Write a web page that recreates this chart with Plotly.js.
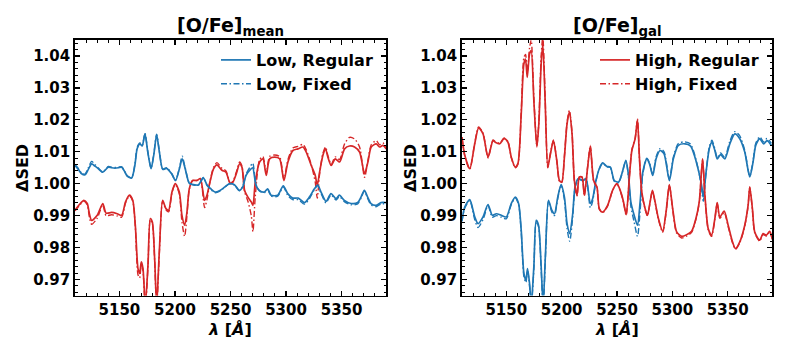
<!DOCTYPE html>
<html>
<head>
<meta charset="utf-8">
<script src="https://cdn.plot.ly/plotly-3.0.1.min.js"></script>
<style>
  html, body { margin: 0; padding: 0; background: #fff; }
  #chart { width: 789px; height: 351px; }
</style>
</head>
<body>
<div id="chart"></div>
<script>
// [O/Fe]_mean panel: low-alpha curves (blue) and the high-alpha curves (red)
const lamMeanLow = [5110, 5113, 5116, 5119, 5122, 5125, 5128, 5131, 5135, 5140, 5143, 5146, 5149, 5152, 5155, 5157, 5161, 5164, 5166, 5168.5, 5170.5, 5173, 5175.5, 5178.5, 5181, 5183.5, 5186, 5189, 5192.5, 5197, 5200.5, 5204, 5206.5, 5209, 5213, 5217, 5221, 5225.5, 5229, 5232, 5236, 5240.5, 5245, 5249, 5253.5, 5258, 5261, 5264, 5268, 5270, 5273, 5276, 5280.5, 5283.5, 5286.5, 5292.5, 5297.5, 5301.5, 5306, 5311, 5316.5, 5321, 5325.5, 5328.5, 5331.5, 5336, 5340.5, 5345, 5348, 5352.5, 5358.5, 5364.5, 5367.5, 5370.5, 5373.5, 5376.5, 5381, 5385.5, 5390];
const meanLowRegular = [1.0057, 1.0045, 1.0031, 1.0028, 1.0045, 1.0062, 1.0055, 1.0047, 1.0036, 1.0052, 1.0050, 1.0049, 1.0050, 1.0052, 1.0036, 1.0024, 1.0018, 1.0060, 1.0110, 1.0125, 1.0118, 1.0156, 1.0100, 1.0047, 1.0092, 1.0153, 1.0099, 1.0045, 1.0048, 1.0031, 1.0010, 1.0047, 1.0078, 1.0050, 1.0001, 0.9997, 0.9996, 1.0018, 0.9995, 0.9985, 0.9974, 0.9979, 0.9990, 1.0000, 0.9997, 0.9979, 0.9990, 1.0026, 1.0045, 1.0050, 0.9995, 0.9979, 0.9974, 0.9984, 0.9964, 0.9964, 0.9993, 0.9969, 0.9955, 0.9955, 0.9941, 0.9958, 0.9984, 0.9996, 0.9974, 0.9945, 0.9969, 0.9953, 0.9964, 0.9948, 0.9938, 0.9941, 0.9958, 0.9979, 0.9958, 0.9938, 0.9932, 0.9941, 0.9941];
const meanLowFixed = [1.0060, 1.0048, 1.0033, 1.0030, 1.0050, 1.0070, 1.0060, 1.0049, 1.0037, 1.0054, 1.0052, 1.0051, 1.0052, 1.0053, 1.0037, 1.0025, 1.0019, 1.0063, 1.0115, 1.0128, 1.0120, 1.0158, 1.0102, 1.0048, 1.0094, 1.0155, 1.0100, 1.0046, 1.0050, 1.0032, 1.0011, 1.0050, 1.0086, 1.0053, 1.0002, 0.9996, 0.9995, 1.0020, 0.9994, 0.9983, 0.9972, 0.9977, 0.9989, 1.0000, 0.9996, 0.9978, 0.9992, 1.0030, 1.0055, 1.0065, 0.9998, 0.9977, 0.9972, 0.9982, 0.9961, 0.9961, 0.9990, 0.9964, 0.9950, 0.9950, 0.9936, 0.9953, 0.9981, 0.9994, 0.9970, 0.9940, 0.9965, 0.9949, 0.9960, 0.9944, 0.9934, 0.9937, 0.9955, 0.9977, 0.9954, 0.9934, 0.9928, 0.9937, 0.9937];

const lamMeanHigh = [5110, 5114, 5118, 5121, 5123, 5125, 5130, 5135, 5138, 5143, 5148, 5152, 5155.5, 5159, 5162, 5164.3, 5166.7, 5168.2, 5169.7, 5171.2, 5173.3, 5175.7, 5177.8, 5179.6, 5181.7, 5183.5, 5185.9, 5188.9, 5191.9, 5194.3, 5197.3, 5200.3, 5203.9, 5206.3, 5208.7, 5210.8, 5212.9, 5215.9, 5219.8, 5222.8, 5226.7, 5228.8, 5231.8, 5234.8, 5237.8, 5242.3, 5245.9, 5249.8, 5252.2, 5255.2, 5258.2, 5260.3, 5262.7, 5265.7, 5268.7, 5270.2, 5272.3, 5276.2, 5279.2, 5282.2, 5285.2, 5289.7, 5294.2, 5298.1, 5301.7, 5306.2, 5310.7, 5315.2, 5318.2, 5322.7, 5326.3, 5328.1, 5330.2, 5333.2, 5335.6, 5337.7, 5340.7, 5344.3, 5348.2, 5352.7, 5357.2, 5361.7, 5366.2, 5370.7, 5373.7, 5376.7, 5381.2, 5384.2, 5387.2, 5390.2];
const meanHighRegular = [0.9917, 0.9935, 0.9948, 0.9938, 0.9905, 0.9885, 0.9901, 0.9938, 0.9908, 0.9910, 0.9906, 0.9901, 0.9943, 0.9964, 0.9948, 0.9870, 0.9734, 0.9719, 0.9755, 0.9734, 0.9620, 0.9745, 0.9891, 0.9880, 0.9766, 0.9620, 0.9786, 0.9948, 0.9922, 0.9917, 0.9974, 1.0000, 0.9974, 0.9901, 0.9870, 0.9911, 0.9984, 1.0010, 1.0010, 1.0016, 0.9948, 0.9964, 1.0010, 1.0047, 1.0059, 1.0042, 1.0036, 1.0000, 1.0005, 1.0031, 1.0062, 1.0052, 0.9979, 0.9958, 0.9943, 0.9932, 1.0005, 1.0068, 1.0078, 1.0026, 1.0078, 1.0083, 1.0078, 1.0010, 1.0068, 1.0104, 1.0109, 1.0115, 1.0099, 1.0057, 1.0026, 0.9995, 1.0036, 1.0089, 1.0109, 1.0083, 1.0057, 1.0078, 1.0068, 1.0109, 1.0118, 1.0115, 1.0099, 1.0031, 1.0068, 1.0115, 1.0125, 1.0115, 1.0120, 1.0109];
const meanHighFixed = [0.9915, 0.9932, 0.9946, 0.9934, 0.9895, 0.9873, 0.9892, 0.9934, 0.9900, 0.9903, 0.9899, 0.9895, 0.9940, 0.9962, 0.9945, 0.9865, 0.9715, 0.9705, 0.9750, 0.9728, 0.9610, 0.9740, 0.9888, 0.9876, 0.9760, 0.9610, 0.9780, 0.9945, 0.9918, 0.9912, 0.9972, 0.9998, 0.9968, 0.9880, 0.9835, 0.9900, 0.9982, 1.0010, 1.0011, 1.0016, 0.9925, 0.9950, 1.0012, 1.0052, 1.0066, 1.0048, 1.0040, 1.0002, 1.0008, 1.0036, 1.0068, 1.0055, 0.9975, 0.9945, 0.9900, 0.9850, 0.9960, 1.0075, 1.0085, 1.0033, 1.0085, 1.0090, 1.0085, 1.0014, 1.0075, 1.0112, 1.0117, 1.0123, 1.0106, 1.0060, 1.0005, 0.9955, 1.0030, 1.0095, 1.0115, 1.0088, 1.0060, 1.0084, 1.0076, 1.0125, 1.0145, 1.0140, 1.0115, 1.0020, 1.0072, 1.0122, 1.0135, 1.0122, 1.0128, 1.0115];

// [O/Fe]_gal panel: high-alpha curves (red) and the low-alpha curves (blue)
const lamGalHigh = [5110, 5112.5, 5117, 5121.5, 5125, 5129, 5133.5, 5138, 5140, 5144, 5148, 5151.5, 5154.5, 5158, 5160.5, 5163.5, 5165.9, 5167.4, 5168.9, 5171, 5172.5, 5174.9, 5177.6, 5179.4, 5181.5, 5183, 5185.1, 5187.5, 5189.9, 5192.6, 5195.6, 5198, 5200.1, 5202.5, 5204.9, 5207, 5209.4, 5211.5, 5213.9, 5216, 5218.4, 5220.5, 5223.5, 5225.9, 5228.9, 5231.9, 5234, 5237, 5241.5, 5246, 5249.9, 5252.9, 5255.9, 5258.3, 5261.3, 5263.4, 5266.4, 5268.5, 5270.3, 5272.4, 5275.4, 5277.5, 5279.9, 5282, 5284.4, 5287.4, 5291.3, 5294.3, 5297.3, 5300.3, 5303.9, 5308.4, 5312.9, 5317.4, 5321.3, 5324.3, 5327.3, 5329.4, 5332.4, 5335.4, 5338.4, 5340.5, 5342.9, 5346.8, 5350.4, 5354.3, 5357, 5360.9, 5365.4, 5368.4, 5369.9, 5372.3, 5374.4, 5378.9, 5381.9, 5384.9, 5387.9, 5390.3];
const galHighRegular = [1.0146, 1.0089, 1.0047, 1.0125, 1.0175, 1.0156, 1.0083, 1.0135, 1.0130, 1.0125, 1.0141, 1.0130, 1.0083, 1.0052, 1.0063, 1.0219, 1.0375, 1.0390, 1.0333, 1.0406, 1.0417, 1.0260, 1.0115, 1.0188, 1.0375, 1.0437, 1.0260, 1.0052, 1.0094, 1.0135, 1.0073, 1.0010, 1.0005, 1.0083, 1.0188, 1.0224, 1.0156, 1.0010, 0.9964, 1.0021, 1.0021, 0.9964, 1.0052, 1.0117, 1.0010, 0.9990, 0.9922, 0.9911, 0.9932, 0.9979, 1.0000, 0.9979, 0.9943, 0.9903, 1.0026, 1.0104, 1.0141, 1.0200, 1.0078, 0.9974, 0.9922, 0.9901, 0.9943, 0.9979, 0.9943, 0.9891, 0.9851, 0.9911, 0.9997, 0.9922, 0.9849, 0.9835, 0.9840, 0.9851, 0.9891, 0.9943, 1.0078, 0.9964, 0.9859, 0.9839, 0.9891, 0.9941, 0.9896, 0.9914, 0.9870, 0.9818, 0.9797, 0.9818, 0.9870, 0.9932, 0.9990, 0.9922, 0.9849, 0.9823, 0.9844, 0.9839, 0.9851, 0.9828];
const galHighFixed = [1.0144, 1.0087, 1.0045, 1.0127, 1.0178, 1.0158, 1.0081, 1.0137, 1.0132, 1.0127, 1.0143, 1.0132, 1.0082, 1.0050, 1.0062, 1.0225, 1.0395, 1.0405, 1.0345, 1.0425, 1.0450, 1.0270, 1.0118, 1.0195, 1.0400, 1.0460, 1.0270, 1.0050, 1.0096, 1.0137, 1.0072, 1.0008, 1.0004, 1.0086, 1.0193, 1.0230, 1.0160, 1.0008, 0.9962, 1.0020, 1.0020, 0.9962, 1.0054, 1.0120, 1.0008, 0.9988, 0.9920, 0.9909, 0.9930, 0.9978, 1.0000, 0.9978, 0.9941, 0.9901, 1.0027, 1.0106, 1.0143, 1.0203, 1.0078, 0.9972, 0.9920, 0.9899, 0.9942, 0.9978, 0.9941, 0.9888, 0.9848, 0.9909, 0.9996, 0.9919, 0.9845, 0.9830, 0.9836, 0.9848, 0.9889, 0.9942, 1.0075, 0.9962, 0.9856, 0.9835, 0.9888, 0.9939, 0.9892, 0.9910, 0.9866, 0.9815, 0.9795, 0.9815, 0.9867, 0.9930, 0.9988, 0.9919, 0.9846, 0.9820, 0.9841, 0.9836, 0.9848, 0.9825];

const lamGalLow = [5110, 5112.5, 5117, 5121.5, 5124.5, 5129, 5133.5, 5137.4, 5141, 5145.5, 5150, 5154.5, 5158.1, 5161.1, 5163.5, 5165.9, 5167.7, 5169.2, 5171, 5172.5, 5174.9, 5177, 5179.1, 5181.5, 5183.3, 5185.4, 5188.1, 5191.1, 5193.5, 5196.5, 5199.5, 5202.5, 5204.9, 5207.3, 5210, 5212.1, 5215.1, 5219, 5222, 5225.9, 5228, 5231, 5234, 5237, 5240.9, 5244, 5247.5, 5251.4, 5254.4, 5258, 5260.4, 5262.5, 5265.5, 5268.5, 5270.9, 5273.3, 5276.9, 5279.3, 5282.3, 5285.3, 5288.9, 5292.5, 5297.3, 5300.9, 5305.4, 5311.4, 5316.5, 5320.4, 5324.3, 5326.4, 5327.9, 5330.3, 5333.3, 5335.7, 5338.4, 5340.5, 5343.5, 5347.4, 5351.9, 5356.4, 5360.9, 5365.4, 5369.9, 5372.9, 5375.3, 5378.9, 5382.5, 5385.5, 5389.4];
const galLowRegular = [0.9885, 0.9927, 0.9950, 0.9896, 0.9875, 0.9896, 0.9935, 0.9901, 0.9906, 0.9901, 0.9896, 0.9938, 0.9958, 0.9938, 0.9854, 0.9719, 0.9698, 0.9734, 0.9688, 0.9620, 0.9740, 0.9885, 0.9870, 0.9740, 0.9620, 0.9781, 0.9948, 0.9917, 0.9906, 0.9958, 0.9997, 0.9958, 0.9875, 0.9844, 0.9906, 0.9990, 1.0016, 1.0010, 1.0016, 0.9938, 0.9953, 1.0010, 1.0047, 1.0065, 1.0054, 1.0052, 1.0010, 1.0005, 1.0031, 1.0073, 1.0026, 0.9943, 0.9901, 0.9870, 0.9943, 1.0036, 1.0078, 1.0063, 1.0026, 1.0078, 1.0104, 1.0094, 1.0010, 1.0078, 1.0120, 1.0125, 1.0118, 1.0083, 1.0031, 0.9995, 0.9958, 1.0031, 1.0109, 1.0130, 1.0104, 1.0078, 1.0091, 1.0078, 1.0125, 1.0156, 1.0141, 1.0099, 1.0021, 1.0068, 1.0120, 1.0141, 1.0125, 1.0135, 1.0120];
const galLowFixed = [0.9882, 0.9924, 0.9947, 0.9888, 0.9863, 0.9888, 0.9931, 0.9895, 0.9900, 0.9895, 0.9890, 0.9935, 0.9956, 0.9935, 0.9848, 0.9710, 0.9690, 0.9728, 0.9680, 0.9610, 0.9733, 0.9881, 0.9866, 0.9733, 0.9610, 0.9774, 0.9945, 0.9912, 0.9900, 0.9954, 0.9995, 0.9950, 0.9860, 0.9820, 0.9895, 0.9987, 1.0015, 1.0009, 1.0014, 0.9925, 0.9945, 1.0008, 1.0046, 1.0064, 1.0053, 1.0051, 1.0008, 1.0003, 1.0030, 1.0072, 1.0020, 0.9930, 0.9880, 0.9835, 0.9915, 1.0030, 1.0080, 1.0066, 1.0028, 1.0084, 1.0110, 1.0100, 1.0013, 1.0083, 1.0126, 1.0131, 1.0124, 1.0088, 1.0030, 0.9985, 0.9945, 1.0030, 1.0114, 1.0136, 1.0109, 1.0082, 1.0096, 1.0083, 1.0133, 1.0163, 1.0150, 1.0104, 1.0024, 1.0072, 1.0126, 1.0147, 1.0131, 1.0142, 1.0126];

const BLUE = '#1f77b4';
const RED = '#d62728';
const FONT = 'DejaVu Sans, Liberation Sans, sans-serif';
const DASHDOT = '6px,2.5px,1.5px,2.5px';

function curve(x, y, color, dashed, xa, ya, name, legend, show) {
    return {
        x: x, y: y, type: 'scatter', mode: 'lines',
        xaxis: xa, yaxis: ya, name: name, legend: legend, showlegend: show,
        line: { color: color, width: dashed ? 1.4 : 1.7, dash: dashed ? DASHDOT : 'solid', shape: 'spline', smoothing: 0.7 },
        hoverinfo: 'skip'
    };
}

const traces = [
    curve(lamMeanHigh, meanHighRegular, RED, false, 'x', 'y', 'High, Regular', 'legend', false),
    curve(lamMeanHigh, meanHighFixed, RED, true, 'x', 'y', 'High, Fixed', 'legend', false),
    curve(lamMeanLow, meanLowRegular, BLUE, false, 'x', 'y', 'Low, Regular', 'legend', true),
    curve(lamMeanLow, meanLowFixed, BLUE, true, 'x', 'y', 'Low, Fixed', 'legend', true),
    curve(lamGalLow, galLowRegular, BLUE, false, 'x2', 'y2', 'Low, Regular', 'legend2', false),
    curve(lamGalLow, galLowFixed, BLUE, true, 'x2', 'y2', 'Low, Fixed', 'legend2', false),
    curve(lamGalHigh, galHighRegular, RED, false, 'x2', 'y2', 'High, Regular', 'legend2', true),
    curve(lamGalHigh, galHighFixed, RED, true, 'x2', 'y2', 'High, Fixed', 'legend2', true)
];

const W = 789, H = 351;
const boxL = [75, 386], boxR = [462, 772], boxY = [40, 295.5];

function xAxis(dom, anchor) {
    return {
        domain: dom, anchor: anchor, range: [5110, 5390],
        tick0: 5150, dtick: 50, ticks: 'inside', ticklen: 5, tickwidth: 1.3, tickcolor: '#000',
        minor: { dtick: 10, ticks: 'inside', ticklen: 2.5, tickwidth: 1, tickcolor: '#000' },
        showline: true, linewidth: 1.8, linecolor: '#000', mirror: 'allticks',
        showgrid: false, zeroline: false,
        tickfont: { family: FONT, size: 15, color: '#000', weight: 'bold' }
    };
}
function yAxis(dom, anchor) {
    return {
        domain: dom, anchor: anchor, range: [0.965, 1.045],
        tick0: 0.97, dtick: 0.01, tickformat: '.2f',
        ticks: 'inside', ticklen: 5, tickwidth: 1.3, tickcolor: '#000',
        minor: { dtick: 0.002, ticks: 'inside', ticklen: 2.5, tickwidth: 1, tickcolor: '#000' },
        showline: true, linewidth: 1.8, linecolor: '#000', mirror: 'allticks',
        showgrid: false, zeroline: false,
        tickfont: { family: FONT, size: 15, color: '#000', weight: 'bold' }
    };
}

const yDom = [1 - boxY[1] / H, 1 - boxY[0] / H];
const titleFont = { family: FONT, size: 19, color: '#000' };
const labFont = { family: FONT, size: 16, color: '#000' };

const layout = {
    width: W, height: H,
    margin: { l: 0, r: 0, t: 0, b: 0 },
    paper_bgcolor: '#fff', plot_bgcolor: '#fff',
    xaxis: xAxis([boxL[0] / W, boxL[1] / W], 'y'),
    yaxis: yAxis(yDom, 'x'),
    xaxis2: xAxis([boxR[0] / W, boxR[1] / W], 'y2'),
    yaxis2: yAxis(yDom, 'x2'),
    legend: {
        x: 378 / W, xanchor: 'right', y: 1 - 43 / H, yanchor: 'top',
        bgcolor: 'rgba(0,0,0,0)', borderwidth: 0, itemwidth: 30, tracegroupgap: 0,
        font: { family: FONT, size: 16, color: '#000', weight: 'bold' }
    },
    legend2: {
        x: 764 / W, xanchor: 'right', y: 1 - 43 / H, yanchor: 'top',
        bgcolor: 'rgba(0,0,0,0)', borderwidth: 0, itemwidth: 30, tracegroupgap: 0,
        font: { family: FONT, size: 16, color: '#000', weight: 'bold' }
    },
    annotations: [
        { text: '<b>[O/Fe]<sub>mean</sub></b>', x: (boxL[0] + boxL[1]) / 2 / W, y: 1 - 27 / H,
          xref: 'paper', yref: 'paper', showarrow: false, xanchor: 'center', yanchor: 'middle', font: titleFont },
        { text: '<b>[O/Fe]<sub>gal</sub></b>', x: (boxR[0] + boxR[1]) / 2 / W, y: 1 - 27 / H,
          xref: 'paper', yref: 'paper', showarrow: false, xanchor: 'center', yanchor: 'middle', font: titleFont },
        { text: '<b>ΔSED</b>', x: 22 / W, y: 1 - 168 / H, textangle: -90,
          xref: 'paper', yref: 'paper', showarrow: false, xanchor: 'center', yanchor: 'middle', font: labFont },
        { text: '<b>ΔSED</b>', x: 410 / W, y: 1 - 168 / H, textangle: -90,
          xref: 'paper', yref: 'paper', showarrow: false, xanchor: 'center', yanchor: 'middle', font: labFont },
        { text: '<b><i>λ</i> [<i>Å</i>]</b>', x: (boxL[0] + boxL[1]) / 2 / W, y: 1 - 329 / H,
          xref: 'paper', yref: 'paper', showarrow: false, xanchor: 'center', yanchor: 'middle', font: labFont },
        { text: '<b><i>λ</i> [<i>Å</i>]</b>', x: (boxR[0] + boxR[1]) / 2 / W, y: 1 - 329 / H,
          xref: 'paper', yref: 'paper', showarrow: false, xanchor: 'center', yanchor: 'middle', font: labFont }
    ]
};

Plotly.newPlot('chart', traces, layout, { staticPlot: true, displayModeBar: false });
</script>
</body>
</html>
